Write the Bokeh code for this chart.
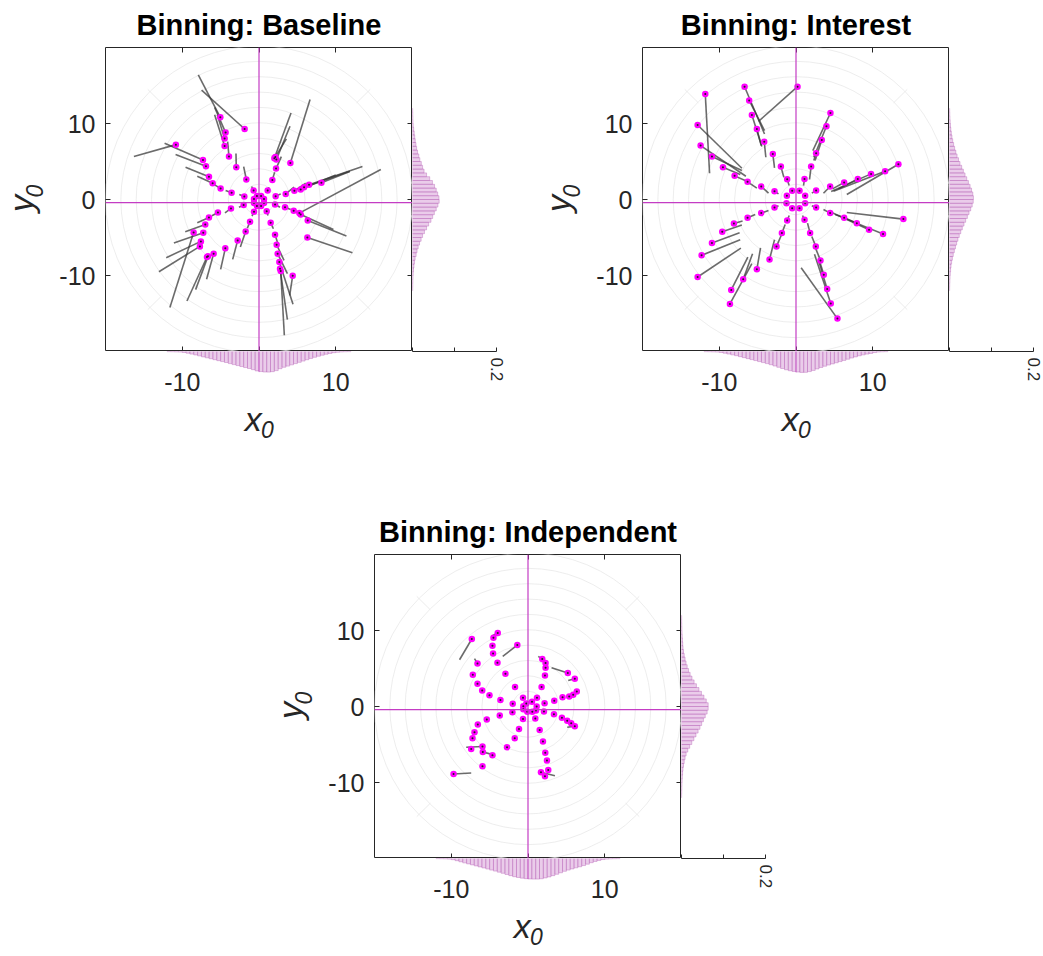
import math
import numpy as np
from bokeh.plotting import figure
from bokeh.layouts import row, column
from bokeh.models import Range1d, LinearAxis, FixedTicker, Span, ColumnDataSource
from bokeh.core.properties import value
from bokeh.embed import file_html
from bokeh.resources import INLINE

# ---------------------------------------------------------------- data
titles = ["Binning: Baseline", "Binning: Interest", "Binning: Independent"]
axis_ticks = [-10, 0, 10]
x_label_ticks = [-10, 10]
prob_ticks = [0, 0.1, 0.2]
ring_radii = [2, 4, 6, 8, 10, 12, 14, 16, 18, 20]
spoke_angles = [45, 135, 225, 315]
spoke_span = (18.0, 20.5)
mean_x = 0.0
mean_y = -0.4

# histogram bins (0.5 wide) shared by all marginals
hist_centers = np.arange(-11.75, 11.76, 0.5)
bin_width = 0.5

# --- Baseline: binned position (dot) and true position (line end)
base_dot_x = [0.65, 0.27, -0.27, -0.65, -0.65, -0.27, 0.27, 0.65,
              -0.70, -1.65, -2.96, -3.91, -4.48, -4.48, -4.35, -5.04, -1.87,
              1.13, 1.74, 2.22, 2.00, 2.26, 2.13, 4.09,
              2.17, 3.48, 4.61, 5.43, 5.87, 6.52, 8.13,
              2.09, 3.39, 4.52, 5.26, 5.43, 6.35, 6.30,
              1.00, 1.52, 2.09, 2.30, 2.43, 2.65, 2.74, 2.83, 4.39,
              -0.65, -1.17, -1.74, -2.78, -4.39, -5.91, -6.65, -6.78,
              -2.00, -3.65, -5.35, -6.52, -7.00, -7.26, -8.52, -7.57, -7.70,
              -1.91, -3.57, -5.00, -6.04, -6.52, -6.91, -7.30, -10.83]
base_dot_y = [0.07, 0.45, 0.45, 0.07, -0.47, -0.85, -0.85, -0.47,
              1.18, 2.63, 4.25, 5.65, 7.05, 8.01, 8.80, 10.81, 9.28,
              1.18, 2.58, 4.07, 5.43, 5.25, 5.60, 4.81,
              0.44, 0.74, 1.14, 1.31, 1.62, 1.93, 2.19,
              -0.66, -1.01, -1.49, -1.79, -1.97, -2.76, -4.99,
              -1.53, -3.06, -4.64, -5.95, -7.13, -8.23, -9.10, -9.41, -10.02,
              -1.62, -2.93, -4.20, -5.38, -6.43, -7.13, -7.48, -7.57,
              -0.74, -1.18, -1.71, -2.36, -3.28, -4.38, -4.33, -5.51, -6.17,
              0.39, 0.88, 1.44, 2.14, 2.98, 4.38, 5.21, 7.22]
base_end_x = [0.95, 0.40, -0.40, -0.95, -0.95, -0.40, 0.40, 0.95,
              -0.96, -2.00, -3.00, -4.09, -5.78, -5.43, -5.78, -7.91, -7.48,
              1.30, 2.04, 2.91, 4.17, 4.04, 3.57, 6.65,
              2.83, 4.57, 6.09, 10.00, 11.83, 13.48, 11.83,
              2.74, 4.13, 5.87, 15.87, 9.70, 11.39, 12.17,
              1.17, 1.87, 2.39, 3.26, 3.70, 4.43, 3.70, 3.30, 4.00,
              -0.91, -1.52, -2.43, -3.43, -5.00, -6.83, -8.26, -9.39,
              -2.61, -4.43, -6.13, -8.04, -9.61, -11.09, -11.61, -12.09, -13.04,
              -2.57, -4.35, -6.22, -8.04, -9.57, -10.87, -12.30, -16.30]
base_end_y = [0.20, 0.75, 0.75, 0.20, -0.60, -1.15, -1.15, -0.60,
              1.71, 4.33, 6.04, 7.61, 11.16, 11.16, 12.12, 16.41, 14.40,
              1.62, 3.59, 5.65, 11.38, 9.63, 7.97, 13.17,
              0.74, 1.62, 2.14, 3.24, 3.72, 4.33, 3.68,
              -1.01, -1.31, -2.10, 3.94, -3.94, -4.81, -7.00,
              -2.10, -3.85, -5.60, -8.01, -9.76, -13.79, -15.80, -17.86, -12.60,
              -2.19, -3.76, -6.26, -7.88, -9.19, -10.50, -11.86, -13.35,
              -1.01, -1.75, -2.14, -3.06, -4.25, -5.73, -14.22, -7.66, -9.50,
              0.66, 1.18, 2.23, 3.06, 4.25, 5.91, 7.40, 5.65]

# --- Interest
int_dot_x = [-1.19, -0.50, 0.46, 1.19, 1.19, 0.46, -0.50, -1.24,
             2.62, 1.11, -1.15, -2.80, -2.80, -1.15, 1.11, 2.62,
             1.97, 2.62, 3.36, 3.97, 4.49,
             4.45, 6.27, 8.05, 9.78, 11.61, 13.34,
             4.45, 6.27, 7.92, 9.52, 11.34, 13.99,
             1.84, 2.58, 3.19, 3.62, 4.06, 4.53, 5.40,
             -1.84, -2.54, -3.45, -5.10, -6.88, -8.44, -8.61,
             -4.53, -6.31, -8.09, -9.61, -10.95, -12.30, -12.82,
             -4.53, -6.31, -8.00, -9.52, -10.95, -12.43, -12.82, -11.82,
             -1.97, -3.02, -4.14, -5.10, -5.75, -6.10, -6.70, 0.20]
int_dot_y = [0.48, 1.14, 1.14, 0.48, -0.48, -1.14, -1.14, -0.48,
             1.18, 2.71, 2.67, 1.09, -1.05, -2.76, -2.67, -1.05,
             4.33, 6.08, 7.83, 9.63, 11.38,
             1.71, 2.23, 2.71, 3.37, 3.72, 4.64,
             -1.79, -2.41, -3.11, -3.98, -4.55, -2.58,
             -4.42, -6.17, -8.01, -9.89, -11.77, -13.70, -15.67,
             -4.42, -6.17, -7.88, -9.19, -10.50, -11.90, -13.74,
             -1.79, -2.41, -3.15, -4.25, -5.73, -7.35, -10.20,
             1.71, 2.32, 3.11, 4.25, 5.65, 7.09, 9.80, 13.87,
             4.33, 6.00, 7.61, 9.28, 11.12, 13.04, 14.84, 14.84]
int_end_x = [-0.90, -0.35, 0.30, 0.90, 0.90, 0.30, -0.35, -0.95,
             2.06, 0.98, -0.89, -2.28, -2.28, -0.89, 0.85, 2.06,
             1.76, 2.32, 2.49, 2.32, 2.19,
             3.58, 4.75, 5.53, 4.58, 4.88, 6.62,
             3.58, 5.10, 6.18, 4.66, 5.97, 6.62,
             1.50, 2.06, 2.49, 3.02, 2.93, 2.41, 0.67,
             -1.41, -1.93, -2.80, -4.62, -5.66, -6.27, -5.75,
             -3.58, -5.31, -6.96, -7.05, -7.35, -7.27, -7.18,
             -3.58, -5.10, -6.62, -7.27, -7.05, -6.53, -7.05, -11.26,
             -1.58, -2.80, -3.93, -4.53, -4.45, -4.10, -4.10, -4.88]
int_end_y = [0.30, 0.80, 0.80, 0.30, -0.35, -0.85, -0.85, -0.35,
             0.83, 1.84, 1.84, 0.74, -0.83, -2.10, -2.10, -0.83,
             2.63, 5.12, 5.12, 5.56, 6.43,
             0.83, 1.40, 1.40, 1.05, 1.09, 0.66,
             -1.31, -1.97, -2.32, -1.71, -2.32, -1.71,
             -3.11, -4.86, -6.26, -7.92, -8.01, -7.22, -8.97,
             -3.28, -4.73, -5.30, -6.35, -7.13, -7.57, -8.45,
             -1.44, -1.97, -2.84, -3.37, -4.38, -5.30, -6.39,
             0.83, 1.49, 2.49, 3.28, 3.81, 3.06, 4.11, 3.46,
             2.93, 4.16, 5.56, 7.09, 6.96, 9.06, 8.62, 10.28]

# --- Independent
ind_dot_x = [-0.61, -0.22, 0.52, 1.13, 1.04, 0.56, -0.09, -0.61,
             -0.65, 1.17, 2.16, 2.08, 0.95, -0.65, -2.03, -1.99,
             -1.69, 1.77, 3.42, 3.38, 1.52, -1.17, -3.68, -3.59,
             -2.94, 2.21, 4.50, 4.42, 1.95, -1.73, -5.37, -5.02,
             -3.98, 2.29, 5.37, 5.11, 2.25, -2.73, -6.54, -5.97,
             -4.55, 2.29, 5.89, 5.63, 2.47, -4.63, -6.97, -6.58,
             -4.63, 1.86, 6.36, 6.10, 2.64, -5.89, -7.23, -7.19,
             -3.94, -4.50, -1.39, -7.32, -6.58, 5.19, 6.10, 2.21, 1.69,
             -5.93, -5.93, -7.40, -9.70]
ind_dot_y = [0.04, 0.40, 0.62, 0.00, -0.53, -0.70, -0.70, -0.35,
             1.14, 1.14, 0.44, -0.66, -1.58, -1.63, -0.75, 0.35,
             2.55, 2.55, 0.75, -1.01, -3.08, -2.95, -1.19, 0.84,
             4.31, 4.09, 1.23, -1.49, -4.62, -4.18, -1.71, 1.49,
             5.76, 5.10, 1.32, -1.89, -6.07, -5.36, -2.37, 2.11,
             6.99, 5.71, 1.54, -2.20, -7.12, -6.42, -3.38, 2.99,
             8.00, 6.24, 1.98, -2.59, -8.35, -5.98, -4.18, 4.18,
             9.67, 9.05, 8.09, 8.88, 5.67, 4.40, 3.65, -9.19, -8.66,
             -7.87, -5.27, -5.58, -8.88]
ind_end_x = [-0.61, -0.22, 0.52, 1.13, 1.04, 0.56, -0.09, -0.61,
             -0.65, 1.17, 2.16, 2.08, 0.95, -0.65, -2.03, -1.99,
             -1.69, 1.77, 3.42, 3.38, 1.52, -1.17, -3.68, -3.59,
             -2.94, 2.21, 4.50, 4.42, 1.95, -1.73, -5.37, -5.02,
             -3.98, 2.29, 5.37, 5.11, 2.25, -2.73, -6.54, -5.97,
             -4.55, 2.29, 5.89, 5.63, 2.47, -4.63, -6.97, -6.58,
             -4.63, 1.34, 6.36, 5.11, 2.90, -4.59, -7.23, -7.19,
             -4.59, -4.50, -3.29, -8.92, -6.97, 3.07, 5.24, 2.21, 3.51,
             -5.93, -8.05, -7.40, -7.40]
ind_end_y = [0.04, 0.40, 0.62, 0.00, -0.53, -0.70, -0.70, -0.35,
             1.14, 1.14, 0.44, -0.66, -1.58, -1.63, -0.75, 0.35,
             2.55, 2.55, 0.75, -1.01, -3.08, -2.95, -1.19, 0.84,
             4.31, 4.09, 1.23, -1.49, -4.62, -4.18, -1.71, 1.49,
             5.76, 5.10, 1.32, -1.89, -6.07, -5.36, -2.37, 2.11,
             6.99, 5.71, 1.54, -2.20, -7.12, -6.42, -3.38, 2.99,
             8.00, 6.59, 1.98, -2.73, -8.60, -6.33, -4.18, 4.18,
             9.36, 9.05, 6.59, 6.15, 6.29, 5.10, 3.43, -9.19, -9.10,
             -7.87, -5.36, -5.58, -8.75]

# --- marginal probabilities per 0.5-wide bin
base_hist_x = [0.0004, 0.0006, 0.0009, 0.0013, 0.0022, 0.0040, 0.0062, 0.0082,
               0.0104, 0.0128, 0.0150, 0.0172, 0.0195, 0.0218, 0.0240, 0.0262,
               0.0288, 0.0312, 0.0335, 0.0358, 0.0382, 0.0405, 0.0432, 0.0462,
               0.0478, 0.0488, 0.0490, 0.0480, 0.0455, 0.0410, 0.0375, 0.0348,
               0.0318, 0.0288, 0.0258, 0.0228, 0.0196, 0.0165, 0.0138, 0.0112,
               0.0088, 0.0066, 0.0046, 0.0028, 0.0017, 0.0010, 0.0006, 0.0004]
base_hist_y = [0.0004, 0.0006, 0.0008, 0.0011, 0.0016, 0.0024, 0.0034, 0.0047,
               0.0062, 0.0086, 0.0108, 0.0135, 0.0168, 0.0205, 0.0240, 0.0285,
               0.0335, 0.0385, 0.0440, 0.0480, 0.0520, 0.0565, 0.0605, 0.0635,
               0.0630, 0.0600, 0.0565, 0.0525, 0.0475, 0.0410, 0.0335, 0.0275,
               0.0240, 0.0210, 0.0175, 0.0150, 0.0120, 0.0098, 0.0082, 0.0065,
               0.0053, 0.0040, 0.0028, 0.0017, 0.0011, 0.0008, 0.0006, 0.0004]
int_hist_x = [0.0004, 0.0006, 0.0009, 0.0013, 0.0022, 0.0040, 0.0060, 0.0080,
              0.0100, 0.0123, 0.0146, 0.0170, 0.0193, 0.0216, 0.0240, 0.0264,
              0.0288, 0.0315, 0.0345, 0.0375, 0.0405, 0.0435, 0.0458, 0.0475,
              0.0488, 0.0498, 0.0497, 0.0478, 0.0450, 0.0415, 0.0380, 0.0350,
              0.0322, 0.0295, 0.0268, 0.0240, 0.0212, 0.0183, 0.0155, 0.0128,
              0.0102, 0.0080, 0.0062, 0.0045, 0.0025, 0.0012, 0.0007, 0.0004]
int_hist_y = [0.0003, 0.0005, 0.0008, 0.0012, 0.0018, 0.0026, 0.0036, 0.0050,
              0.0068, 0.0090, 0.0115, 0.0142, 0.0170, 0.0200, 0.0232, 0.0268,
              0.0305, 0.0345, 0.0385, 0.0425, 0.0465, 0.0505, 0.0540, 0.0565,
              0.0570, 0.0555, 0.0525, 0.0490, 0.0450, 0.0410, 0.0370, 0.0330,
              0.0290, 0.0250, 0.0215, 0.0180, 0.0150, 0.0122, 0.0098, 0.0076,
              0.0058, 0.0043, 0.0031, 0.0022, 0.0015, 0.0010, 0.0006, 0.0004]
ind_hist_x = [0.0003, 0.0005, 0.0008, 0.0014, 0.0028, 0.0052, 0.0078, 0.0104,
              0.0128, 0.0152, 0.0176, 0.0200, 0.0225, 0.0250, 0.0275, 0.0300,
              0.0325, 0.0352, 0.0380, 0.0408, 0.0433, 0.0452, 0.0468, 0.0480,
              0.0487, 0.0490, 0.0490, 0.0482, 0.0462, 0.0438, 0.0408, 0.0375,
              0.0340, 0.0305, 0.0275, 0.0248, 0.0222, 0.0197, 0.0168, 0.0135,
              0.0100, 0.0070, 0.0045, 0.0025, 0.0014, 0.0008, 0.0005, 0.0003]
ind_hist_y = [0.0003, 0.0005, 0.0007, 0.0010, 0.0014, 0.0019, 0.0026, 0.0035,
              0.0048, 0.0064, 0.0085, 0.0110, 0.0150, 0.0195, 0.0245, 0.0295,
              0.0345, 0.0395, 0.0440, 0.0480, 0.0522, 0.0565, 0.0610, 0.0635,
              0.0635, 0.0590, 0.0535, 0.0475, 0.0415, 0.0355, 0.0300, 0.0250,
              0.0205, 0.0168, 0.0135, 0.0108, 0.0085, 0.0064, 0.0048, 0.0036,
              0.0028, 0.0022, 0.0016, 0.0012, 0.0008, 0.0006, 0.0004, 0.0003]

# ---------------------------------------------------------------- style
FONT = "Liberation Sans"
INK = "#262626"
MAGENTA = "#ff00ff"
CROSS = "#c43cc4"
HIST_FILL = "#d9a3d9"
HIST_LINE = "#b45ab4"
FW, FH = 307, 304          # main frame size in px
RW = 84                    # marginal frame width (0 .. 0.2)
BH = 24                    # depth reserved for the bottom marginal
LOW_H = 95                 # strip below the frame: marginal + tick labels + x label
TICKW = 55                 # room for the y tick labels
PROB_PER_PX = 0.2 / RW
PLAIN_LABELS = {-10: "-10", 0: "0", 10: "10"}
NO_LABELS = {-10: "", 0: "", 10: ""}


def base_fig(**kw):
    f = figure(toolbar_location=None, output_backend="svg",
               x_axis_location=None, y_axis_location=None, **kw)
    f.grid.visible = False
    f.outline_line_color = None
    return f


def tick_axis(labels):
    ax = LinearAxis(ticker=FixedTicker(ticks=axis_ticks))
    ax.major_tick_in = 5
    ax.major_tick_out = 0
    ax.minor_tick_line_color = None
    ax.minor_tick_out = 0
    ax.axis_line_color = None
    ax.major_tick_line_color = INK
    ax.major_label_text_font = FONT
    ax.major_label_text_color = INK
    if labels:
        ax.major_label_overrides = PLAIN_LABELS
        ax.major_label_text_font_size = "25px"
        ax.major_label_standoff = 10
    else:
        ax.major_label_overrides = NO_LABELS
        ax.major_label_text_font_size = "1px"
        ax.major_label_standoff = 0
    return ax


def build_panel(title, dx, dy, ex, ey, hx, hy, left, top, right_pad):
    xr = Range1d(-20, 20)
    yr = Range1d(-20, 20)
    yw = left - TICKW

    # strip holding the rotated y0 label
    ylab = base_fig(x_range=Range1d(0, yw), y_range=yr, frame_width=yw, frame_height=FH,
                    min_border_left=0, min_border_right=0, min_border_top=top,
                    min_border_bottom=0)
    ylab.text(x=[yw - 30], y=[-0.53], text=["y"], angle=math.pi / 2,
              text_align="center", text_baseline="alphabetic",
              text_font=value(FONT), text_font_style=value("italic"),
              text_font_size=value("34px"), text_color=INK)
    ylab.text(x=[yw - 16], y=[1.12], text=["0"], angle=math.pi / 2,
              text_align="center", text_baseline="alphabetic",
              text_font=value(FONT), text_font_style=value("italic"),
              text_font_size=value("23px"), text_color=INK)

    # main scatter panel
    m = base_fig(title=title, x_range=xr, y_range=yr, frame_width=FW, frame_height=FH,
                 min_border_left=TICKW, min_border_right=0,
                 min_border_top=top, min_border_bottom=0)
    m.outline_line_color = INK
    m.outline_line_width = 1
    m.title.align = "center"
    m.title.text_font = FONT
    m.title.text_font_size = "29px"
    m.title.text_font_style = "bold"
    m.title.text_color = "black"
    m.title.standoff = 13

    for side, lab in (("left", True), ("right", False), ("above", False), ("below", False)):
        m.add_layout(tick_axis(lab), side)

    # polar reference grid: rings plus short diagonal spokes on the outer band
    m.circle(x=0, y=0, radius=ring_radii, fill_color=None,
             line_color="#e9e9e9", line_width=0.8)
    ang = np.radians(spoke_angles)
    m.segment(x0=spoke_span[0] * np.cos(ang), y0=spoke_span[0] * np.sin(ang),
              x1=spoke_span[1] * np.cos(ang), y1=spoke_span[1] * np.sin(ang),
              line_color="#e6e6e6", line_width=0.8)

    m.add_layout(Span(location=mean_x, dimension="height", line_color=CROSS, line_width=1.2))
    m.add_layout(Span(location=mean_y, dimension="width", line_color=CROSS, line_width=1.2))

    src = ColumnDataSource(dict(x=dx, y=dy, ex=ex, ey=ey))
    m.segment(x0="x", y0="y", x1="ex", y1="ey", source=src,
              line_color="#3a3a3a", line_alpha=0.75, line_width=1.6)
    m.scatter(x="x", y="y", source=src, size=6.5, fill_color=MAGENTA,
              line_color=None)
    m.scatter(x="x", y="y", source=src, size=2, fill_color="#202020",
              line_color=None)

    # strip below the frame: x marginal hanging down, tick labels, x0 label
    b = base_fig(x_range=xr, y_range=Range1d(LOW_H * PROB_PER_PX, 0),
                 frame_width=FW, frame_height=LOW_H,
                 min_border_left=TICKW, min_border_right=0,
                 min_border_top=0, min_border_bottom=0)
    bx = LinearAxis(ticker=FixedTicker(ticks=x_label_ticks),
                    major_label_overrides={-10: "-10", 10: "10"},
                    fixed_location=BH * PROB_PER_PX)
    bx.axis_line_color = None
    bx.major_tick_line_color = None
    bx.minor_tick_line_color = None
    bx.major_tick_in = 0
    bx.major_tick_out = 0
    bx.major_label_text_font = FONT
    bx.major_label_text_font_size = "25px"
    bx.major_label_text_color = INK
    bx.major_label_standoff = -3
    b.add_layout(bx, "below")
    b.quad(left=hist_centers - bin_width / 2, right=hist_centers + bin_width / 2,
           top=0, bottom=hx, fill_color=HIST_FILL, fill_alpha=0.55,
           line_color=HIST_LINE, line_alpha=0.55, line_width=0.7)
    b.segment(x0=[mean_x], y0=[0], x1=[mean_x], y1=[max(hx)],
              line_color=CROSS, line_width=1.0, line_alpha=0.6)
    b.text(x=[-0.74], y=[67 * PROB_PER_PX], text=["x"], text_align="center",
           text_baseline="alphabetic", text_font=value(FONT),
           text_font_style=value("italic"), text_font_size=value("34px"),
           text_color=INK)
    b.text(x=[1.11], y=[78 * PROB_PER_PX], text=["0"], text_align="center",
           text_baseline="alphabetic", text_font=value(FONT),
           text_font_style=value("italic"), text_font_size=value("23px"),
           text_color=INK)

    # right marginal (y distribution)
    r = base_fig(x_range=Range1d(0, 0.2), y_range=yr, frame_width=RW, frame_height=FH,
                 min_border_left=0, min_border_right=right_pad,
                 min_border_top=top, min_border_bottom=40)
    rx = LinearAxis(ticker=FixedTicker(ticks=prob_ticks),
                    major_label_overrides={0: "", 0.1: "", 0.2: "0.2"})
    rx.axis_line_color = INK
    rx.major_tick_line_color = INK
    rx.major_tick_in = 4
    rx.major_tick_out = 0
    rx.minor_tick_line_color = None
    rx.major_label_orientation = -math.pi / 2
    rx.major_label_text_font = FONT
    rx.major_label_text_font_size = "17px"
    rx.major_label_text_color = INK
    rx.major_label_standoff = 6
    r.add_layout(rx, "below")
    r.quad(left=0, right=hy, bottom=hist_centers - bin_width / 2,
           top=hist_centers + bin_width / 2, fill_color=HIST_FILL, fill_alpha=0.55,
           line_color=HIST_LINE, line_alpha=0.55, line_width=0.7)

    return row(ylab, column(m, b), r)


g1 = build_panel(titles[0], base_dot_x, base_dot_y, base_end_x, base_end_y,
                 base_hist_x, base_hist_y, left=105, top=47, right_pad=12)
g2 = build_panel(titles[1], int_dot_x, int_dot_y, int_end_x, int_end_y,
                 int_hist_x, int_hist_y, left=134, top=47, right_pad=10)
g3 = build_panel(titles[2], ind_dot_x, ind_dot_y, ind_end_x, ind_end_y,
                 ind_hist_x, ind_hist_y, left=374, top=108, right_pad=14)

layout = column(row(g1, g2), g3)
open("out.html", "w").write(file_html(layout, INLINE, title="Binning"))
